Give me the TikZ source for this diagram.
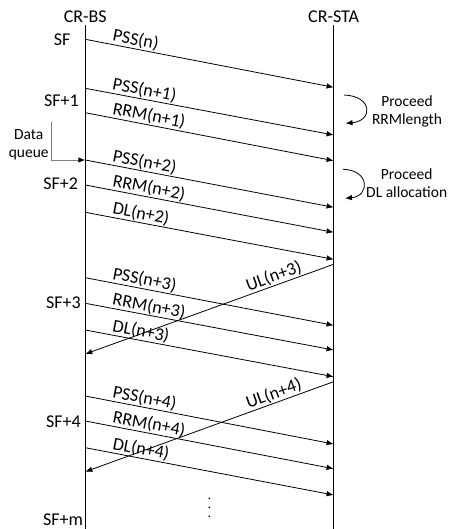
\documentclass[tikz,border=0pt]{standalone}
\usepackage{fontspec}
\setmainfont{Carlito}
\usetikzlibrary{arrows.meta}
\begin{document}
\begin{tikzpicture}[x=1pt,y=-1pt,
  every node/.style={font=\fontsize{18}{21}\selectfont},
  life/.style={line width=1.1pt},
  msg/.style={line width=0.8pt,-{Latex[length=7pt,width=5.5pt]}},
  umsg/.style={line width=0.8pt,{Latex[length=7pt,width=5.5pt]}-},
  lbl/.style={sloped,anchor=south west,inner sep=0.8pt,pos=0.1},
  ulbl/.style={sloped,anchor=south east,inner sep=0.8pt,pos=0.885},
  side/.style={font=\fontsize{15.5}{18.5}\selectfont,align=center,inner sep=0pt},
  sf/.style={anchor=east,inner sep=0pt},
  curv/.style={line width=0.8pt,-{Latex[length=7pt,width=5.5pt]}},
  dqline/.style={line width=0.9pt,draw=black!50,-{Latex[length=7pt,width=5.5pt,color=black]}}]
\useasboundingbox (0,0) rectangle (451,529);
% lifelines
\node[inner sep=0pt] (bs) at (85.3,16.7) {CR-BS};
\node[inner sep=0pt] (sta) at (333.6,17) {CR-STA};
\coordinate (bstop) at (85.3,25);
\coordinate (bsbot) at (85.3,529);
\coordinate (sttop) at (333.6,25);
\coordinate (stbot) at (333.6,529);
\draw[life] (bstop) -- (bsbot);
\draw[life] (sttop) -- (stbot);
% subframe labels
\node[sf] (sf0) at (70.7,39.5) {SF};
\node[sf] (sf1) at (79,101) {SF+1};
\node[sf] (sf2) at (78.3,184) {SF+2};
\node[sf] (sf3) at (81,302.7) {SF+3};
\node[sf] (sf4) at (81,421.5) {SF+4};
\node[sf] (sfm) at (83.3,520) {SF+m};
% downlink messages
\foreach \i/\a/\b/\t in {1/39.3/87.3/PSS(n),
  2/88.3/135/PSS(n+1), 3/112.7/160.7/RRM(n+1),
  4/160/207.3/PSS(n+2), 5/185/232.3/RRM(n+2), 6/212.3/259.3/DL(n+2),
  7/277.7/325.3/PSS(n+3), 8/303.3/350/RRM(n+3), 9/330/376.7/DL(n+3),
  10/396/444/PSS(n+4), 11/421/468.7/RRM(n+4), 12/447.7/495/DL(n+4)}{
  \coordinate (b\i) at (85.3,\a);
  \coordinate (s\i) at (333.6,\b);
  \draw[msg] (b\i) -- (s\i) node[lbl] (l\i) {\t};
}
% uplink messages
\coordinate (ub1) at (85.3,354);
\coordinate (us1) at (333.6,264.3);
\draw[umsg] (ub1) -- (us1) node[ulbl] (ul1) {UL(n+3)};
\coordinate (ub2) at (85.3,471.7);
\coordinate (us2) at (333.6,381.7);
\draw[umsg] (ub2) -- (us2) node[ulbl] (ul2) {UL(n+4)};
% processing loops
\coordinate (c1a) at (344,95);
\coordinate (c1b) at (345.5,123.3);
\draw[curv] (c1a) .. controls (373,96) and (373,121) .. (c1b);
\node[side] (p1) at (407,111.5) {Proceed\\RRMlength};
\coordinate (c2a) at (343,169.3);
\coordinate (c2b) at (345,198.3);
\draw[curv] (c2a) .. controls (370,170) and (370,196) .. (c2b);
\node[side] (p2) at (406.7,183.3) {Proceed\\DL allocation};
% data queue
\node[side] (dqt) at (28.7,145) {Data\\queue};
\coordinate (dq) at (51.7,122.3);
\draw[dqline] (dq) |- (b4);
% continuation dots
\foreach \y in {498.3,507.3,516.3}{\fill (209.3,\y) circle (0.9pt);}
\end{tikzpicture}
\end{document}
